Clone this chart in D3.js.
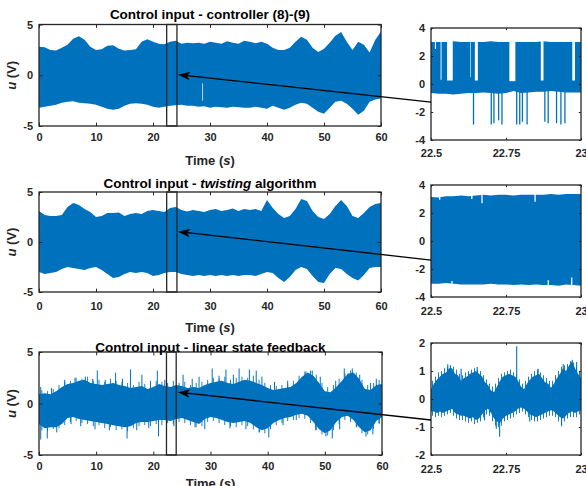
<!DOCTYPE html>
<html><head><meta charset="utf-8">
<script src="https://cdn.jsdelivr.net/npm/d3@7"></script>
<style>
body{margin:0;background:#fff;}
svg{display:block;font-family:"Liberation Sans",Arial,Helvetica,sans-serif;}
</style>
</head><body>
<svg id="c" width="586" height="486"></svg>
<script>
// ---------------- DATA ----------------
const leftXTicks = [0, 10, 20, 30, 40, 50, 60];
const leftYTicks = [-5, 0, 5];
const zoomXTicks = [22.5, 22.75, 23];
const zoomYTicksAB = [-4, -2, 0, 2, 4];
const zoomYTicksC = [-2, -1, 0, 1, 2];

// sampling grid of the read-off envelopes (1 s) and mid-points between them
const tSec = d3.range(0, 61);
const tHalf = d3.range(0, 60).map(k => k + 0.5);

// Controller (8)-(9): upper / lower envelope of the fast switching signal
const ctrlHi = [2.8,2.75,2.5,2.45,2.7,3.0,3.6,3.85,3.5,2.8,2.5,2.55,2.9,2.95,2.6,2.45,2.5,2.55,3.3,3.55,3.3,3.1,3.05,3.3,3.4,3.1,3.2,3.15,3.2,3.1,3.3,3.2,3.1,3.35,3.2,3.1,3.4,3.3,3.15,3.3,3.1,2.7,2.5,2.5,2.7,3.3,3.8,3.5,2.7,2.3,2.6,3.2,3.9,4.25,3.3,2.5,3.3,3.0,2.25,3.5,4.3];
const ctrlLo = [-3.2,-3.1,-3.0,-2.9,-2.7,-2.6,-2.55,-2.7,-2.75,-2.8,-2.9,-3.1,-3.3,-3.4,-3.3,-3.0,-2.8,-2.75,-2.8,-2.9,-3.1,-3.2,-3.1,-3.0,-2.95,-2.9,-3.0,-3.0,-3.1,-3.05,-3.2,-3.1,-3.15,-3.2,-3.1,-3.15,-3.2,-3.2,-3.1,-3.2,-3.3,-3.0,-3.2,-3.4,-3.2,-2.9,-2.7,-2.8,-3.2,-3.6,-3.8,-3.2,-2.6,-2.5,-2.8,-3.3,-3.9,-3.5,-2.6,-2.4,-2.3];
const ctrlStreak = [[28.7, -0.8, -2.5]];

// Twisting algorithm envelopes
const twHi = [3.1,2.7,2.6,2.6,2.7,3.5,3.9,3.7,3.3,3.0,2.5,2.6,2.9,2.9,2.95,2.6,2.8,2.9,2.8,3.1,3.2,3.1,3.0,3.4,3.5,3.2,3.05,3.2,3.1,3.0,3.2,3.3,3.1,3.2,3.35,3.1,3.3,3.2,3.3,3.1,4.2,3.4,2.8,2.4,2.6,3.3,4.3,4.1,3.1,2.5,2.3,2.8,3.6,4.2,3.6,2.6,2.4,2.9,3.5,3.8,3.9];
const twLo = [-3.0,-3.2,-3.1,-3.0,-2.7,-2.5,-2.6,-2.7,-2.8,-2.6,-2.5,-2.8,-3.2,-3.6,-3.5,-3.2,-3.0,-3.1,-3.0,-3.1,-3.4,-3.3,-3.1,-3.0,-3.0,-3.2,-3.3,-3.4,-3.3,-3.4,-3.3,-3.4,-3.3,-3.4,-3.3,-3.4,-3.3,-3.3,-3.4,-3.2,-3.0,-3.1,-3.6,-4.0,-3.5,-2.8,-2.5,-2.7,-3.4,-4.0,-4.1,-3.2,-2.6,-2.7,-3.2,-3.6,-3.85,-3.3,-2.6,-2.5,-2.5];

// Linear state feedback: body envelopes, in-between peaks, and isolated spikes [t, u]
const linHi = [0.9,1.0,0.9,1.2,1.6,1.9,2.0,2.2,2.3,2.0,1.9,1.8,1.9,2.0,1.8,1.7,1.5,1.6,1.7,1.4,1.6,1.9,1.7,1.6,1.8,1.7,1.5,1.6,1.5,1.8,2.0,2.1,2.2,2.0,1.9,2.1,2.3,2.2,2.0,1.8,1.5,1.3,1.4,1.5,1.6,2.0,2.6,3.0,2.7,2.0,1.2,1.1,1.6,2.2,2.9,3.0,2.4,1.4,1.3,1.8,1.9];
const linLo = [-2.0,-2.4,-2.3,-2.3,-2.0,-1.4,-1.3,-1.5,-1.6,-1.7,-1.8,-1.9,-2.0,-2.1,-2.2,-2.3,-2.2,-1.9,-1.8,-1.8,-1.7,-1.6,-1.6,-1.7,-1.5,-1.4,-1.6,-1.8,-2.0,-1.5,-1.3,-1.4,-1.6,-1.8,-1.9,-1.8,-1.7,-1.9,-2.3,-2.6,-2.4,-1.9,-1.6,-1.4,-1.3,-1.1,-1.0,-1.2,-1.8,-2.5,-2.9,-2.6,-1.8,-1.3,-1.2,-1.6,-2.3,-2.8,-2.6,-1.7,-1.3];
const linTopPeaks = [1.3,1.2,1.4,1.8,2.1,2.2,2.5,2.4,2.6,2.2,2.3,2.1,2.4,2.2,2.1,2.0,1.8,2.1,1.9,2.0,2.2,2.1,2.0,2.2,2.0,2.1,1.8,2.0,2.1,2.3,2.5,2.4,2.6,2.3,2.5,2.6,2.5,2.7,2.3,2.0,1.8,1.7,1.8,1.9,2.2,2.7,3.1,3.2,2.8,2.0,1.6,1.8,2.4,2.9,3.2,3.0,2.3,1.8,2.0,2.3];
const linBotPeaks = [-2.6,-2.7,-2.5,-2.4,-2.1,-1.8,-1.7,-1.9,-2.0,-2.2,-2.1,-2.4,-2.3,-2.6,-2.5,-2.7,-2.4,-2.2,-2.1,-2.2,-2.0,-2.1,-1.9,-2.0,-1.8,-1.9,-2.1,-2.3,-2.2,-1.8,-1.7,-1.9,-2.1,-2.2,-2.3,-2.1,-2.2,-2.5,-2.8,-2.9,-2.5,-2.1,-1.9,-1.7,-1.6,-1.4,-1.5,-1.9,-2.6,-3.0,-3.1,-2.6,-2.0,-1.6,-1.8,-2.3,-2.9,-3.0,-2.5,-1.9];
const linSpikes = [[0.3,1.6],[2.2,1.5],[4.5,2.3],[6.3,2.5],[8.1,2.6],[9.4,2.4],[10.2,3.2],[11.6,2.3],[13.4,3.0],[14.6,2.4],[16.0,3.3],[18.0,2.8],[19.5,2.2],[20.7,3.2],[22.0,2.3],[25.2,2.8],[26.8,2.4],[28.0,2.6],[30.3,3.4],[31.5,2.7],[32.7,3.3],[34.0,2.8],[35.0,3.4],[36.8,3.3],[38.0,3.2],[39.0,2.6],[41.2,2.1],[43.5,2.2],[46.7,3.1],[47.8,3.2],[49.2,2.6],[51.9,2.2],[53.4,3.4],[54.8,3.4],[56.1,2.8],[58.0,2.0],[59.0,2.4],
  [0.3,-3.5],[1.45,-3.4],[3.1,-2.8],[5.6,-2.0],[7.3,-2.2],[9.8,-2.5],[12.3,-2.6],[15.4,-3.4],[17.1,-2.6],[19.2,-2.4],[20.9,-3.2],[23.6,-2.2],[27.3,-2.3],[29.0,-2.5],[33.4,-2.4],[36.2,-2.5],[38.6,-2.8],[40.2,-3.3],[42.7,-2.1],[45.0,-1.6],[48.4,-2.6],[50.2,-3.2],[51.3,-3.4],[52.6,-2.5],[55.6,-2.3],[57.2,-3.2],[58.4,-3.0],[59.5,-2.0]];

// Zoom A (controller), 22.5-23 s
const tZA = d3.range(0, 21).map(i => 22.5 + i * 0.025);
const zaHi = [3.0,3.0,3.0,3.05,3.0,3.0,3.0,3.0,3.05,3.0,3.0,3.0,3.0,3.0,3.0,3.05,3.0,3.0,3.0,3.0,3.0];
const zaLo = [-0.65,-0.7,-0.7,-0.75,-0.7,-0.65,-0.65,-0.6,-0.65,-0.7,-0.65,-0.5,-0.65,-0.6,-0.55,-0.55,-0.5,-0.55,-0.6,-0.6,-0.6];
const zaGaps = [[22.513,22.5165,2.5],[22.532,22.535,0.3],[22.5536,22.5725,0.25],[22.631,22.633,0.5],[22.6462,22.6562,0.25],[22.7612,22.7812,0.2],[22.8661,22.875,0.25],[22.971,22.9799,0.25]];
const zaSpikes = [[22.6417,-2.9],[22.7009,-2.9],[22.7098,-2.8],[22.7254,-2.6],[22.7366,-2.9],[22.7857,-2.9],[22.7958,-2.9],[22.8047,-2.7],[22.8203,-2.9],[22.8795,-2.7],[22.8906,-2.8],[22.9185,-2.8],[22.933,-2.9],[22.9464,-2.8]];

// Zoom B (twisting)
const tZB = d3.range(0, 21).map(i => 22.5 + i * 0.025);
const zbHi = [3.15,3.1,3.2,3.2,3.25,3.2,3.25,3.3,3.25,3.3,3.3,3.25,3.3,3.3,3.3,3.3,3.35,3.3,3.35,3.35,3.35];
const zbLo = [-3.05,-3.05,-3.0,-3.05,-3.1,-3.1,-3.1,-3.1,-3.05,-3.1,-3.1,-3.15,-3.1,-3.15,-3.1,-3.15,-3.15,-3.2,-3.1,-3.15,-3.2];
const zbNotchTop = [[22.529,2.95],[22.636,3.0],[22.67,2.7],[22.847,2.8]];
const zbNotchBot = [[22.57,-2.85],[22.891,-2.8],[22.969,-2.6]];

// Zoom C (linear), 10 ms grid and in-between peaks
const tZC = d3.range(0, 51).map(i => 22.5 + i * 0.01);
const tZCmid = d3.range(0, 50).map(i => 22.505 + i * 0.01);
const zcHi = [0.35,0.55,0.7,0.8,0.9,0.95,1.1,1.1,0.9,0.85,0.65,0.75,0.8,0.9,0.95,1.0,0.9,0.8,0.6,0.5,0.3,0.25,0.45,0.65,0.8,0.85,0.9,0.85,0.8,0.65,0.45,0.35,0.55,0.7,0.8,0.85,0.9,0.75,0.6,0.55,0.4,0.55,0.75,0.9,1.1,1.0,1.2,1.35,1.1,0.9,0.75];
const zcLo = [-0.45,-0.45,-0.5,-0.45,-0.5,-0.45,-0.4,-0.35,-0.5,-0.55,-0.6,-0.6,-0.65,-0.7,-0.65,-0.75,-0.7,-0.55,-0.4,-0.35,-0.5,-0.7,-0.8,-0.85,-0.7,-0.6,-0.55,-0.5,-0.45,-0.35,-0.3,-0.35,-0.45,-0.55,-0.6,-0.65,-0.6,-0.55,-0.5,-0.45,-0.4,-0.45,-0.55,-0.65,-0.7,-0.6,-0.5,-0.45,-0.5,-0.45,-0.4];
const zcTopPeaks = [0.65,0.8,0.95,1.0,1.1,1.15,1.2,1.15,1.05,0.9,0.85,0.95,1.0,1.05,1.1,1.05,1.0,0.85,0.7,0.55,0.45,0.55,0.75,0.9,0.95,1.0,1.05,0.95,0.9,0.7,0.55,0.65,0.8,0.9,1.0,1.05,0.95,0.85,0.75,0.65,0.65,0.85,1.0,1.15,1.2,1.25,1.35,1.3,1.15,1.0];
const zcBotPeaks = [-0.6,-0.65,-0.6,-0.65,-0.6,-0.55,-0.5,-0.6,-0.7,-0.75,-0.75,-0.8,-0.85,-0.8,-0.9,-0.85,-0.8,-0.65,-0.55,-0.6,-0.8,-0.95,-1.0,-0.95,-0.8,-0.75,-0.7,-0.65,-0.55,-0.5,-0.45,-0.55,-0.65,-0.75,-0.8,-0.8,-0.75,-0.7,-0.65,-0.6,-0.6,-0.65,-0.8,-0.85,-0.8,-0.7,-0.65,-0.65,-0.65,-0.55];
const zcSpikes = [[22.5558,1.24],[22.5647,1.2],[22.6004,1.08],[22.654,1.14],[22.6786,-0.76],[22.7176,-1.06],[22.7288,-1.35],[22.7857,1.88],[22.8292,-0.8],[22.8571,1.08],[22.9353,-0.97],[22.9408,1.24],[22.971,1.4],[22.9855,1.32]];

// zoom window markers and arrows: [tStart, tEnd] and [zoom-side u, main-side t, main-side u]
const boxRanges = [[22.4,24.2],[22.4,24.2],[22.3,24.0]];
const arrows = [[-1.29,24.4,0.05],[-1.36,24.4,1.03],[-0.75,24.3,1.1]];

// ---------------- DRAWING ----------------
const BLUE = "#0072BD", AX = "#262626";
const svg = d3.select("#c");
const defs = svg.append("defs");

function panel(o) {
  const x = d3.scaleLinear().domain(o.xd).range([o.x0, o.x1]);
  const y = d3.scaleLinear().domain(o.yd).range([o.y1, o.y0]);
  defs.append("clipPath").attr("id", "cl" + o.id).append("rect")
    .attr("x", o.x0).attr("y", o.y0).attr("width", o.x1 - o.x0).attr("height", o.y1 - o.y0);
  const g = svg.append("g");
  const data = g.append("g").attr("clip-path", `url(#cl${o.id})`);
  const ax = g.append("g");
  return { x, y, data, ax, o };
}

function axes(p) {
  const { x, y, ax, o } = p;
  const fmt = d => String(d);
  const tl = o.tick;
  const bx = ax.append("g").attr("transform", `translate(0,${o.y1})`)
    .call(d3.axisBottom(x).tickValues(o.xt).tickSize(-tl).tickPadding(o.xpad).tickFormat(fmt));
  const tx = ax.append("g").attr("transform", `translate(0,${o.y0})`)
    .call(d3.axisTop(x).tickValues(o.xt).tickSize(-tl).tickFormat(""));
  const ly = ax.append("g").attr("transform", `translate(${o.x0},0)`)
    .call(d3.axisLeft(y).tickValues(o.yt).tickSize(-tl).tickPadding(6).tickFormat(fmt));
  const ry = ax.append("g").attr("transform", `translate(${o.x1},0)`)
    .call(d3.axisRight(y).tickValues(o.yt).tickSize(-tl).tickFormat(""));
  [bx, tx, ly, ry].forEach(s => {
    s.select(".domain").remove();
    s.selectAll("line").attr("stroke", AX).attr("stroke-width", 1);
    s.selectAll("text").attr("fill", AX).attr("font-size", 11).attr("font-weight", "bold");
  });
  ax.append("rect").attr("x", o.x0).attr("y", o.y0).attr("width", o.x1 - o.x0).attr("height", o.y1 - o.y0)
    .attr("fill", "none").attr("stroke", AX).attr("stroke-width", 1.3);
}

function leftLabels(p, titleParts, timeY) {
  const { o } = p;
  const cx = (o.x0 + o.x1) / 2;
  const t = svg.append("text").attr("x", cx).attr("y", o.titleY).attr("text-anchor", "middle")
    .attr("font-size", 13.5).attr("font-weight", "bold").attr("fill", "#000");
  titleParts.forEach(([s, it]) => t.append("tspan").text(s).attr("font-style", it ? "italic" : "normal"));
  const tm = svg.append("text").attr("x", cx).attr("y", timeY).attr("text-anchor", "middle")
    .attr("font-size", 13).attr("font-weight", "bold").attr("fill", AX);
  tm.append("tspan").text("Time (");
  tm.append("tspan").text("s").attr("font-style", "italic");
  tm.append("tspan").text(")");
  const cy = (o.y0 + o.y1) / 2;
  const yl = svg.append("text").attr("transform", `translate(16,${cy}) rotate(-90)`).attr("text-anchor", "middle")
    .attr("font-size", 13).attr("font-weight", "bold").attr("fill", AX);
  yl.append("tspan").text("u").attr("font-style", "italic");
  yl.append("tspan").text(" (V)");
}

const L = { xd: [0, 60], yd: [-5, 5], xt: leftXTicks, yt: leftYTicks, tick: 3.4 };
const R = { xd: [22.5, 23], xt: zoomXTicks, tick: 2.2 };

const p1 = panel({ ...L, id: 1, x0: 39, x1: 381, y0: 24.5, y1: 126, xpad: 7.5, titleY: 19 });
const p2 = panel({ ...R, id: 2, yd: [-4, 4], yt: zoomYTicksAB, x0: 431, x1: 581, y0: 28, y1: 140, xpad: 9.5 });
const p3 = panel({ ...L, id: 3, x0: 39, x1: 381, y0: 192, y1: 292, xpad: 10, titleY: 187.5 });
const p4 = panel({ ...R, id: 4, yd: [-4, 4], yt: zoomYTicksAB, x0: 431, x1: 581, y0: 185, y1: 297, xpad: 10.5 });
const p5 = panel({ ...L, id: 5, x0: 39, x1: 382, y0: 352, y1: 455, xpad: 7.5, titleY: 351.5 });
const p6 = panel({ ...R, id: 6, yd: [-2, 2], yt: zoomYTicksC, x0: 431, x1: 581, y0: 343, y1: 455, xpad: 10 });

function band(p, ts, hi, lo, curve) {
  const a = d3.area().x((d, i) => p.x(ts[i])).y0((d, i) => p.y(lo[i])).y1((d, i) => p.y(hi[i]))
    .curve(curve || d3.curveLinear);
  p.data.append("path").attr("d", a(ts)).attr("fill", BLUE);
}
function spikes(p, arr, w) {
  p.data.selectAll(null).data(arr).join("line")
    .attr("x1", d => p.x(d[0])).attr("x2", d => p.x(d[0]))
    .attr("y1", p.y(0)).attr("y2", d => p.y(d[1]))
    .attr("stroke", BLUE).attr("stroke-width", w);
}
function peakSpikes(p, ts, vals, w) {
  spikes(p, ts.map((t, i) => [t, vals[i]]), w);
}

// Panel 1
band(p1, tSec, ctrlHi, ctrlLo);
p1.data.selectAll(null).data(ctrlStreak).join("line")
  .attr("x1", d => p1.x(d[0])).attr("x2", d => p1.x(d[0]))
  .attr("y1", d => p1.y(d[1])).attr("y2", d => p1.y(d[2]))
  .attr("stroke", "#cfe0f0").attr("stroke-width", 0.9);
// Panel 3
band(p3, tSec, twHi, twLo);
// Panel 5
band(p5, tSec, linHi, linLo);
peakSpikes(p5, tHalf, linTopPeaks, 0.9);
peakSpikes(p5, tHalf, linBotPeaks, 0.9);
spikes(p5, linSpikes, 1);

// Panel 2 (zoom controller)
band(p2, tZA, zaHi, zaLo);
p2.data.selectAll(null).data(zaGaps).join("rect")
  .attr("x", d => p2.x(d[0])).attr("width", d => p2.x(d[1]) - p2.x(d[0]))
  .attr("y", p2.y(3.3)).attr("height", d => p2.y(d[2]) - p2.y(3.3)).attr("fill", "#fff");
spikes(p2, zaSpikes, 1.3);

// Panel 4 (zoom twisting)
band(p4, tZB, zbHi, zbLo);
p4.data.selectAll(null).data(zbNotchTop).join("line")
  .attr("x1", d => p4.x(d[0])).attr("x2", d => p4.x(d[0]))
  .attr("y1", p4.y(3.6)).attr("y2", d => p4.y(d[1])).attr("stroke", "#fff").attr("stroke-width", 1.3);
p4.data.selectAll(null).data(zbNotchBot).join("line")
  .attr("x1", d => p4.x(d[0])).attr("x2", d => p4.x(d[0]))
  .attr("y1", p4.y(-3.6)).attr("y2", d => p4.y(d[1])).attr("stroke", "#fff").attr("stroke-width", 1.3);

// Panel 6 (zoom linear)
band(p6, tZC, zcHi, zcLo);
peakSpikes(p6, tZCmid, zcTopPeaks, 0.9);
peakSpikes(p6, tZCmid, zcBotPeaks, 0.9);
spikes(p6, zcSpikes, 1.1);

[p1, p2, p3, p4, p5, p6].forEach(axes);

leftLabels(p1, [["Control input - controller (8)-(9)", false]], 164.5);
leftLabels(p3, [["Control input - ", false], ["twisting", true], [" algorithm", false]], 332);
leftLabels(p5, [["Control input - linear state feedback", false]], 488);

// zoom boxes
[[p1, boxRanges[0]], [p3, boxRanges[1]], [p5, boxRanges[2]]].forEach(([p, r]) => {
  svg.append("rect").attr("x", p.x(r[0])).attr("width", p.x(r[1]) - p.x(r[0]))
    .attr("y", p.y(5)).attr("height", p.y(-5) - p.y(5))
    .attr("fill", "none").attr("stroke", AX).attr("stroke-width", 1.3);
});

// arrows
[[p1, p2, arrows[0]], [p3, p4, arrows[1]], [p5, p6, arrows[2]]].forEach(([pl, pr, a]) => {
  const sx = pr.x(22.5), sy = pr.y(a[0]);
  const ex = pl.x(a[1]), ey = pl.y(a[2]);
  const ang = Math.atan2(ey - sy, ex - sx);
  const hl = 12, hw = 4.2, back = 9;
  const bx = ex - Math.cos(ang) * back, by = ey - Math.sin(ang) * back;
  svg.append("line").attr("x1", sx).attr("y1", sy).attr("x2", bx).attr("y2", by)
    .attr("stroke", "#000").attr("stroke-width", 1.3);
  const px = -Math.sin(ang), py = Math.cos(ang);
  const rx = ex - Math.cos(ang) * hl, ry = ey - Math.sin(ang) * hl;
  const pts = [[ex, ey], [rx + px * hw, ry + py * hw], [bx, by], [rx - px * hw, ry - py * hw]];
  svg.append("path").attr("d", "M" + pts.map(q => q.join(",")).join("L") + "Z").attr("fill", "#000");
});
</script>
</body></html>
